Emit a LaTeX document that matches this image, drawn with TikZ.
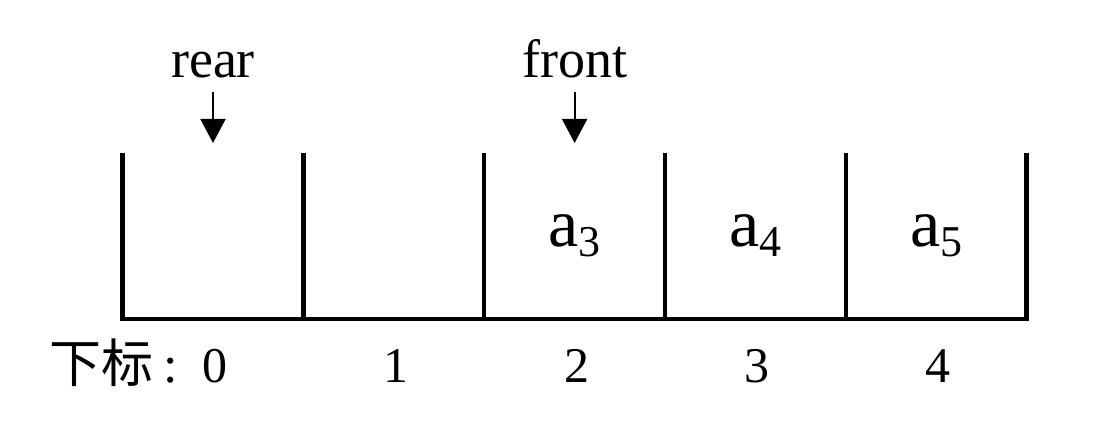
\documentclass[tikz,border=0pt]{standalone}
\usepackage{fontspec}
\setmainfont{Liberation Serif}
\newfontfamily\cjk{Noto Sans CJK SC}
\usetikzlibrary{arrows.meta,positioning}
\newcommand{\elem}[1]{a\raisebox{-10pt}{\fontsize{44}{44}\selectfont #1}}

\begin{document}
\begin{tikzpicture}[x=1pt,y=1pt,>={Triangle[width=25pt,length=24pt]},node distance=0pt,
    cell/.style={minimum width=180.8pt,minimum height=166pt,inner sep=0pt,outer sep=0pt,font=\fontsize{68}{70}\selectfont},
    wall/.style={line width=4.5pt},
    lbl/.style={inner sep=0pt,font=\fontsize{54}{56}\selectfont},
    idx/.style={inner sep=0pt,font=\fontsize{50}{52}\selectfont},
    ptr/.style={->,line width=2pt,shorten <=13.5pt}]

                \useasboundingbox (0,0) rectangle (1100,437);

                \node[cell] (c0) at (213,201) {};

                \node[cell] (c1) [right=of c0] {};

                \node[cell] (c2) [right=of c1] {\elem{3}};

                \node[cell] (c3) [right=of c2] {\elem{4}};

                \node[cell] (c4) [right=of c3] {\elem{5}};

                

                \draw[wall] (c0.north west) -- (c0.south west) -- (c4.south east) -- (c4.north east);

                \foreach \i in {1,...,4}
                    {
                    \draw[wall] (c\i.north west) -- (c\i.south west);
                    }
                    

                \coordinate (rtip) at ([yshift=10pt]c0.north);

                \node[lbl,anchor=base] (rear) at ([yshift=75.5pt]c0.north) {rear};

                \coordinate (ftip) at ([yshift=10pt]c2.north);

                \node[lbl,anchor=base] (front) at ([yshift=75.5pt]c2.north) {front};

                \draw[ptr] (rear) -- (rtip);

                \draw[ptr] (front) -- (ftip);

                

                \foreach \i in {0,...,4}
                    {
                    \node[idx,anchor=base] (i\i) at ([xshift=2pt,yshift=-63pt]c\i.south) {\i};
                    }
                    

                \node[idx,anchor=base east,font=\cjk\fontsize{52}{54}\selectfont] (sub) at ([xshift=-24pt]i0.base west) {下标\kern10pt\rmfamily:};

            \end{tikzpicture}
\end{document}
